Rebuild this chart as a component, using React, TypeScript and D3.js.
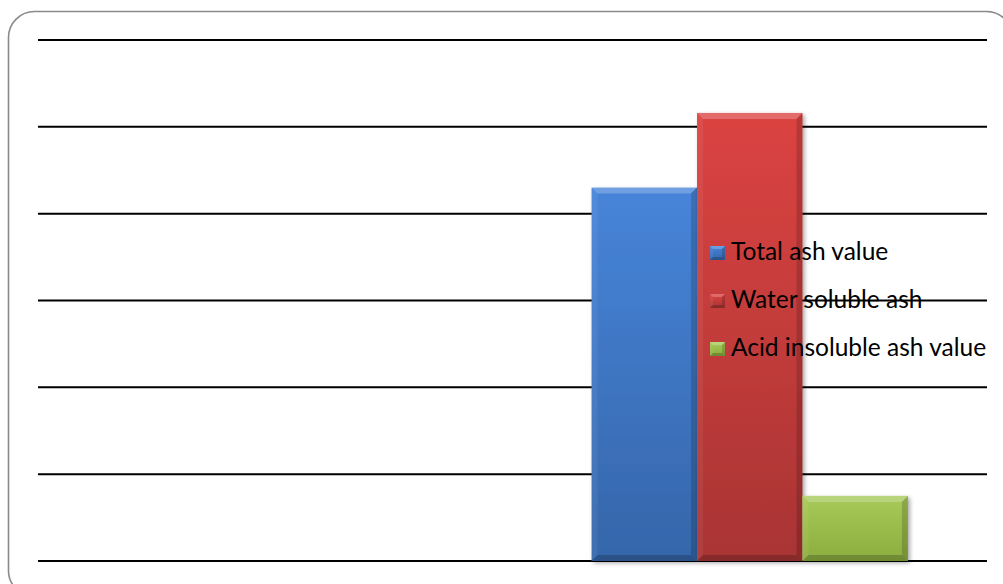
import React from "react";
import * as d3 from "d3";

// Chart data: two category slots, only the second holds measurements
const categories = ["A", "B"];
const seriesNames = ["Total ash value", "Water soluble ash", "Acid insoluble ash value"];
const totalAsh = [0, 4.3];
const waterSolubleAsh = [0, 5.16];
const acidInsolubleAsh = [0, 0.75];
const gridTicks = [0, 1, 2, 3, 4, 5, 6];

const seriesValues = [totalAsh, waterSolubleAsh, acidInsolubleAsh];
const palette = [
  { top: "#4784d9", bottom: "#3566aa" },
  { top: "#db4341", bottom: "#a93434" },
  { top: "#a7ca58", bottom: "#8cad3f" },
];

const W = 1003;
const H = 584;
const plot = { left: 38, right: 987, top: 40, bottom: 561 };

function BevelBox({ x, y, w, h, b, idx, gid }: any) {
  if (h <= 0) return null;
  const bb = Math.min(b, h / 2, w / 2);
  return (
    <g>
      <rect x={x} y={y} width={w} height={h} fill={`url(#${gid}${idx})`} />
      <polygon
        points={`${x},${y} ${x + w},${y} ${x + w - bb},${y + bb} ${x + bb},${y + bb}`}
        fill="#ffffff"
        opacity={0.22}
      />
      <polygon
        points={`${x},${y} ${x + bb},${y + bb} ${x + bb},${y + h - bb} ${x},${y + h}`}
        fill="#ffffff"
        opacity={0.06}
      />
      <polygon
        points={`${x + w},${y} ${x + w - bb},${y + bb} ${x + w - bb},${y + h - bb} ${x + w},${y + h}`}
        fill="#000000"
        opacity={0.16}
      />
      <polygon
        points={`${x},${y + h} ${x + bb},${y + h - bb} ${x + w - bb},${y + h - bb} ${x + w},${y + h}`}
        fill="#000000"
        opacity={0.2}
      />
    </g>
  );
}

export default function App() {
  const x0 = d3
    .scaleBand<string>()
    .domain(categories)
    .range([plot.left, plot.right])
    .paddingInner(0)
    .paddingOuter(0);
  // Excel-style gap width of 50% of a bar group
  const groupW = x0.bandwidth() / 1.5;
  const x1 = d3
    .scaleBand<number>()
    .domain(d3.range(seriesNames.length))
    .range([0, groupW]);
  const y = d3.scaleLinear().domain([0, 6]).range([plot.bottom, plot.top]);

  const legendX = 710;
  const legendY0 = 260;
  const legendStep = 48;

  return (
    <svg
      width={W}
      height={H}
      style={{ position: "absolute", left: 0, top: 0, background: "#ffffff" }}
      fontFamily="Lato, 'Open Sans', sans-serif"
    >
      <defs>
        {palette.map((p, i) => (
          <linearGradient key={i} id={`barGrad${i}`} x1="0" y1="0" x2="0" y2="1">
            <stop offset="0%" stopColor={p.top} />
            <stop offset="100%" stopColor={p.bottom} />
          </linearGradient>
        ))}
        {palette.map((p, i) => (
          <linearGradient key={i} id={`legGrad${i}`} x1="0" y1="0" x2="0" y2="1">
            <stop offset="0%" stopColor={p.top} />
            <stop offset="100%" stopColor={p.bottom} />
          </linearGradient>
        ))}
        <filter id="barShadow" x="-10%" y="-10%" width="130%" height="130%">
          <feDropShadow dx="2" dy="2" stdDeviation="2" floodColor="#000" floodOpacity="0.35" />
        </filter>
      </defs>

      {/* outer rounded frame */}
      <rect
        x={8.5}
        y={11.5}
        width={1004}
        height={585}
        rx={26}
        ry={26}
        fill="#ffffff"
        stroke="#8a8a8a"
        strokeWidth={1.6}
      />

      {/* horizontal gridlines */}
      {gridTicks.map((t) => (
        <line
          key={t}
          x1={plot.left}
          x2={plot.right}
          y1={y(t)}
          y2={y(t)}
          stroke="#000000"
          strokeWidth={2}
        />
      ))}

      {/* bars */}
      {categories.map((c, ci) => {
        const gx = (x0(c) as number) + (x0.bandwidth() - groupW) / 2;
        return (
          <g key={c}>
            {seriesValues.map((vals, si) => {
              const v = vals[ci];
              if (!v) return null;
              const bx = gx + (x1(si) as number);
              const by = y(v);
              return (
                <g key={si} filter="url(#barShadow)">
                  <BevelBox
                    x={bx}
                    y={by}
                    w={x1.bandwidth()}
                    h={y(0) - by}
                    b={6}
                    idx={si}
                    gid="barGrad"
                  />
                </g>
              );
            })}
          </g>
        );
      })}

      {/* legend */}
      {seriesNames.map((name, i) => {
        const ly = legendY0 + i * legendStep;
        return (
          <g key={name}>
            <BevelBox x={legendX} y={ly - 14} w={15} h={14} b={3} idx={i} gid="legGrad" />
            <text x={legendX + 21} y={ly} fontSize={24.5} fill="#000000">
              {name}
            </text>
          </g>
        );
      })}
    </svg>
  );
}
